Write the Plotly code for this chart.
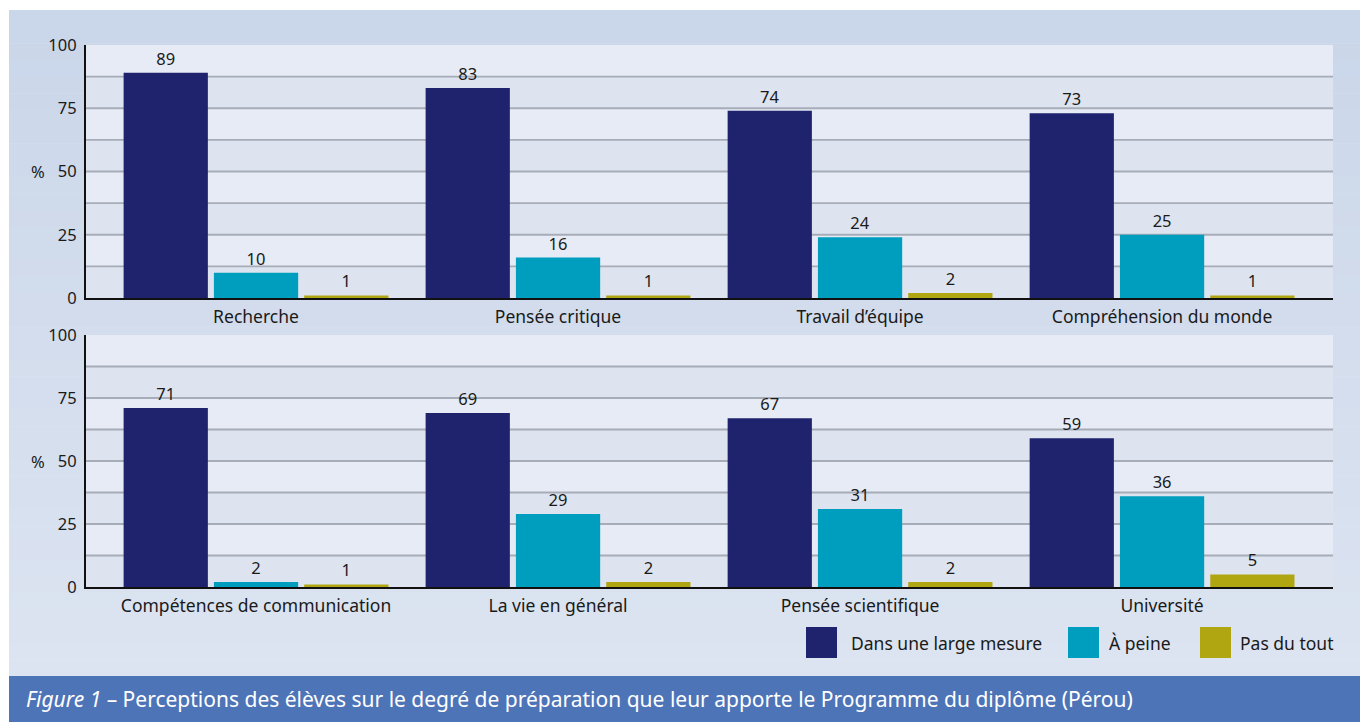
import plotly.graph_objects as go

W, H = 1360, 722

series_names = ["Dans une large mesure", "À peine", "Pas du tout"]
series_colors = ["#1f236e", "#009ebe", "#b0a612"]

top_categories = ["Recherche", "Pensée critique", "Travail d’équipe", "Compréhension du monde"]
top_large = [89, 83, 74, 73]
top_peine = [10, 16, 24, 25]
top_pas = [1, 1, 2, 1]

bottom_categories = ["Compétences de communication", "La vie en général", "Pensée scientifique", "Université"]
bottom_large = [71, 69, 67, 59]
bottom_peine = [2, 29, 31, 36]
bottom_pas = [1, 2, 2, 5]

y_ticks = [0, 25, 50, 75, 100]
grid_levels = [12.5, 25, 37.5, 50, 62.5, 75, 87.5]

caption = "<i>Figure 1</i> – Perceptions des élèves sur le degré de préparation que leur apporte le Programme du diplôme (Pérou)"

FONT = "Noto Sans"

def px_x(x):
    return x / W

def px_y(y):
    return 1 - y / H

fig = go.Figure()

panels = [
    (top_categories, [top_large, top_peine, top_pas], "x", "y"),
    (bottom_categories, [bottom_large, bottom_peine, bottom_pas], "x2", "y2"),
]

for cats, vals, xa, ya in panels:
    for name, color, v in zip(series_names, series_colors, vals):
        fig.add_trace(go.Bar(
            x=cats, y=v, name=name, marker=dict(color=color, line=dict(width=0)),
            text=[str(t) for t in v], textposition="outside",
            textfont=dict(family=FONT, size=16.5, color="#1a1a1a"),
            cliponaxis=False, showlegend=False, xaxis=xa, yaxis=ya,
        ))

xdom = [px_x(86), px_x(1333)]
top_dom = [px_y(298), px_y(45)]
bot_dom = [px_y(587), px_y(335)]

axis_common_x = dict(
    showline=True, linecolor="#111111", linewidth=2, ticks="", showgrid=False,
    tickfont=dict(family=FONT, size=17.5, color="#1a1a1a"),
    range=[-0.563, 3.566], type="category", domain=xdom, fixedrange=True,
    automargin=False, ticklabelstandoff=2,
)
axis_common_y = dict(
    range=[0, 100], tickvals=y_ticks, ticktext=[str(t) for t in y_ticks],
    showline=True, linecolor="#111111", linewidth=2, ticks="", showgrid=False,
    zeroline=False, tickfont=dict(family=FONT, size=16.5, color="#1a1a1a"),
    ticklabelstandoff=4, automargin=False, fixedrange=True,
)

fig.update_layout(
    width=W, height=H,
    margin=dict(l=0, r=0, t=0, b=0, pad=0, autoexpand=False),
    paper_bgcolor="white",
    plot_bgcolor="#e6ebf5",
    barmode="group", bargap=0.103, bargroupgap=0.067,
    xaxis=dict(anchor="y", **axis_common_x),
    yaxis=dict(anchor="x", domain=top_dom, **axis_common_y),
    xaxis2=dict(anchor="y2", **axis_common_x),
    yaxis2=dict(anchor="x2", domain=bot_dom, **axis_common_y),
    showlegend=False,
)

shapes = []
# background panel with a gentle vertical gradient
top_c = (202, 214, 233)
bot_c = (220, 228, 241)
n = 40
y0p, y1p = 10, 676
for i in range(n):
    a = y0p + (y1p - y0p) * i / n
    b = y0p + (y1p - y0p) * (i + 1) / n + 0.5
    t = i / (n - 1)
    c = tuple(round(top_c[k] + (bot_c[k] - top_c[k]) * t) for k in range(3))
    shapes.append(dict(type="rect", xref="paper", yref="paper",
                       x0=px_x(9), x1=1, y0=px_y(b), y1=px_y(a),
                       fillcolor="rgb(%d,%d,%d)" % c, line=dict(width=0), layer="below"))
# caption bar
shapes.append(dict(type="rect", xref="paper", yref="paper",
                   x0=px_x(9), x1=1, y0=0, y1=px_y(676),
                   fillcolor="#4e74b8", line=dict(width=0), layer="below"))

# plot area stripes and grid lines
for xr, yr in [("x domain", "y"), ("x2 domain", "y2")]:
    shapes.append(dict(type="rect", xref=xr, yref=yr, x0=0, x1=1, y0=0, y1=100,
                       fillcolor="#e6ebf5", line=dict(width=0), layer="below"))
    for lo in [0, 25, 50, 75]:
        shapes.append(dict(type="rect", xref=xr, yref=yr, x0=0, x1=1, y0=lo, y1=lo + 12.5,
                           fillcolor="#dde4f0", line=dict(width=0), layer="below"))
    for g in grid_levels:
        shapes.append(dict(type="line", xref=xr, yref=yr, x0=0, x1=1, y0=g, y1=g,
                           line=dict(color="#a6acb8", width=1.8), layer="below"))

# legend (drawn manually to match large swatches)
legend_sw = [(806, 837), (1068, 1099), (1200, 1231)]
legend_tx = [849, 1107, 1238]
annotations = []
for (sx0, sx1), tx, name, color in zip(legend_sw, legend_tx, series_names, series_colors):
    shapes.append(dict(type="rect", xref="paper", yref="paper",
                       x0=px_x(sx0), x1=px_x(sx1), y0=px_y(658), y1=px_y(627),
                       fillcolor=color, line=dict(width=0)))
    annotations.append(dict(xref="paper", yref="paper", x=px_x(tx), y=px_y(643),
                            text=name, showarrow=False, xanchor="left", yanchor="middle",
                            font=dict(family=FONT, size=17.5, color="#1a1a1a")))

# % axis labels
for ya in ["y", "y2"]:
    annotations.append(dict(xref="paper", yref=ya, x=px_x(38), y=50, text="%",
                            showarrow=False, xanchor="center", yanchor="middle",
                            font=dict(family=FONT, size=16.5, color="#1a1a1a")))

annotations.append(dict(xref="paper", yref="paper", x=px_x(24), y=px_y(699),
                        text=caption, showarrow=False, xanchor="left", yanchor="middle",
                        font=dict(family=FONT, size=21, color="white")))

fig.update_layout(shapes=shapes, annotations=annotations)

fig.write_html("out.html", config={"responsive": False, "displayModeBar": False})
